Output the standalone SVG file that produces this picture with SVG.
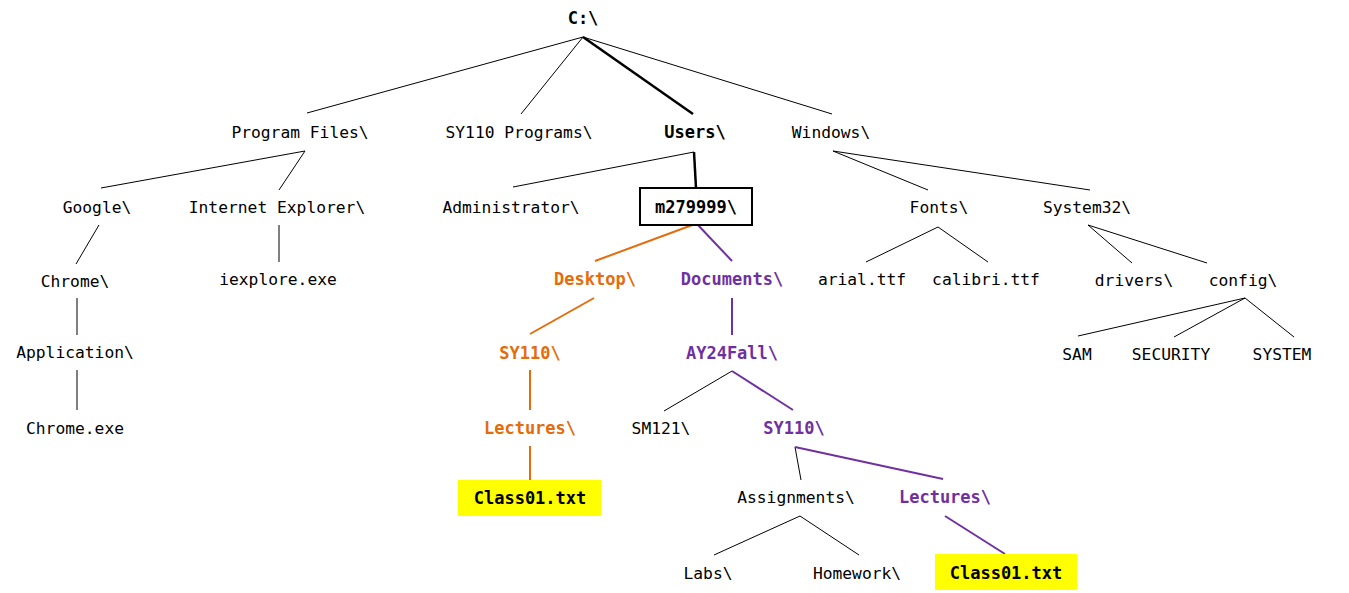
<svg xmlns="http://www.w3.org/2000/svg" width="1349" height="593" viewBox="0 0 1349 593">
<style>
text{font-family:"DejaVu Sans Mono","Liberation Mono",monospace;font-size:16.3px;fill:#000;text-anchor:middle}
text.b{font-weight:bold;font-size:17px}
text.o{fill:#E46C0A}
text.p{fill:#7030A0}
.thin{stroke:#000;stroke-width:1;fill:none}
.thick{stroke:#000;stroke-width:2.5;fill:none}
.or{stroke:#E46C0A;stroke-width:2;fill:none}
.pu{stroke:#7030A0;stroke-width:2;fill:none}
</style>
<rect width="1349" height="593" fill="#fff"/>
<g id="connectors">
<line class="thin" x1="583" y1="37" x2="307" y2="113"/>
<line class="thin" x1="583" y1="37" x2="521" y2="114"/>
<line class="thick" x1="583" y1="37" x2="693" y2="114"/>
<line class="thin" x1="583" y1="37" x2="832" y2="114"/>
<line class="thin" x1="305" y1="151" x2="101" y2="188"/>
<line class="thin" x1="305" y1="151" x2="279" y2="190"/>
<line class="thin" x1="694" y1="152" x2="513" y2="187"/>
<line class="thick" x1="694" y1="152" x2="696" y2="188"/>
<line class="thin" x1="833" y1="151" x2="928" y2="190"/>
<line class="thin" x1="833" y1="151" x2="1090" y2="190"/>
<line class="thin" x1="99" y1="225" x2="76" y2="264"/>
<line class="thin" x1="279" y1="225" x2="279" y2="262"/>
<line class="or" x1="695" y1="224" x2="595" y2="261"/>
<line class="pu" x1="697" y1="224" x2="732" y2="261"/>
<line class="thin" x1="938" y1="227" x2="866" y2="262"/>
<line class="thin" x1="938" y1="227" x2="988" y2="262"/>
<line class="thin" x1="1088" y1="225" x2="1132" y2="263"/>
<line class="thin" x1="1088" y1="225" x2="1207" y2="263"/>
<line class="thin" x1="77" y1="298" x2="77" y2="335"/>
<line class="or" x1="594" y1="298" x2="530" y2="334"/>
<line class="pu" x1="732" y1="298" x2="732" y2="335"/>
<line class="thin" x1="1245" y1="298" x2="1078" y2="336"/>
<line class="thin" x1="1245" y1="298" x2="1174" y2="337"/>
<line class="thin" x1="1245" y1="298" x2="1294" y2="337"/>
<line class="thin" x1="77" y1="370" x2="77" y2="410"/>
<line class="or" x1="530" y1="370" x2="530" y2="410"/>
<line class="thin" x1="732" y1="371" x2="664" y2="411"/>
<line class="pu" x1="732" y1="371" x2="793" y2="410"/>
<line class="or" x1="530" y1="446" x2="530" y2="480"/>
<line class="thin" x1="795" y1="447" x2="801" y2="480"/>
<line class="pu" x1="795" y1="447" x2="943" y2="479"/>
<line class="thin" x1="800" y1="516" x2="714" y2="555"/>
<line class="thin" x1="800" y1="516" x2="859" y2="555"/>
<line class="pu" x1="945" y1="516" x2="1005" y2="554"/>
</g>
<g id="n-root"><text class="b" x="583" y="24">C:\</text></g>
<g id="n-progfiles"><text x="300" y="138">Program Files\</text></g>
<g id="n-sy110prog"><text x="519" y="138">SY110 Programs\</text></g>
<g id="n-users"><text class="b" x="695" y="138">Users\</text></g>
<g id="n-windows"><text x="831" y="138">Windows\</text></g>
<g id="n-google"><text x="97" y="213">Google\</text></g>
<g id="n-ie"><text x="277" y="213">Internet Explorer\</text></g>
<g id="n-admin"><text x="511" y="213">Administrator\</text></g>
<g id="n-m279999"><rect x="640" y="188" width="112" height="37" fill="#fff" stroke="#000" stroke-width="2"/><text class="b" x="696" y="213">m279999\</text></g>
<g id="n-fonts"><text x="939" y="213">Fonts\</text></g>
<g id="n-system32"><text x="1087" y="213">System32\</text></g>
<g id="n-chrome"><text x="75" y="287">Chrome\</text></g>
<g id="n-iexplore"><text x="278" y="285">iexplore.exe</text></g>
<g id="n-desktop"><text class="b o" x="595" y="285">Desktop\</text></g>
<g id="n-documents"><text class="b p" x="732" y="285">Documents\</text></g>
<g id="n-arial"><text x="862" y="285">arial.ttf</text></g>
<g id="n-calibri"><text x="986" y="285">calibri.ttf</text></g>
<g id="n-drivers"><text x="1134" y="286">drivers\</text></g>
<g id="n-config"><text x="1243" y="286">config\</text></g>
<g id="n-application"><text x="75" y="358">Application\</text></g>
<g id="n-desk-sy110"><text class="b o" x="530" y="359">SY110\</text></g>
<g id="n-ay24fall"><text class="b p" x="732" y="359">AY24Fall\</text></g>
<g id="n-sam"><text x="1077" y="360">SAM</text></g>
<g id="n-security"><text x="1171" y="360">SECURITY</text></g>
<g id="n-system"><text x="1282" y="360">SYSTEM</text></g>
<g id="n-chromeexe"><text x="75" y="434">Chrome.exe</text></g>
<g id="n-desk-lectures"><text class="b o" x="530" y="434">Lectures\</text></g>
<g id="n-sm121"><text x="661" y="434">SM121\</text></g>
<g id="n-doc-sy110"><text class="b p" x="794" y="434">SY110\</text></g>
<g id="n-class01-a"><rect x="458" y="480" width="143" height="36" fill="#FFFF00"/><text class="b" x="530" y="504">Class01.txt</text></g>
<g id="n-assignments"><text x="796" y="503">Assignments\</text></g>
<g id="n-doc-lectures"><text class="b p" x="945" y="503">Lectures\</text></g>
<g id="n-labs"><text x="708" y="579">Labs\</text></g>
<g id="n-homework"><text x="857" y="579">Homework\</text></g>
<g id="n-class01-b"><rect x="935" y="554" width="142" height="36" fill="#FFFF00"/><text class="b" x="1006" y="579">Class01.txt</text></g>
</svg>
